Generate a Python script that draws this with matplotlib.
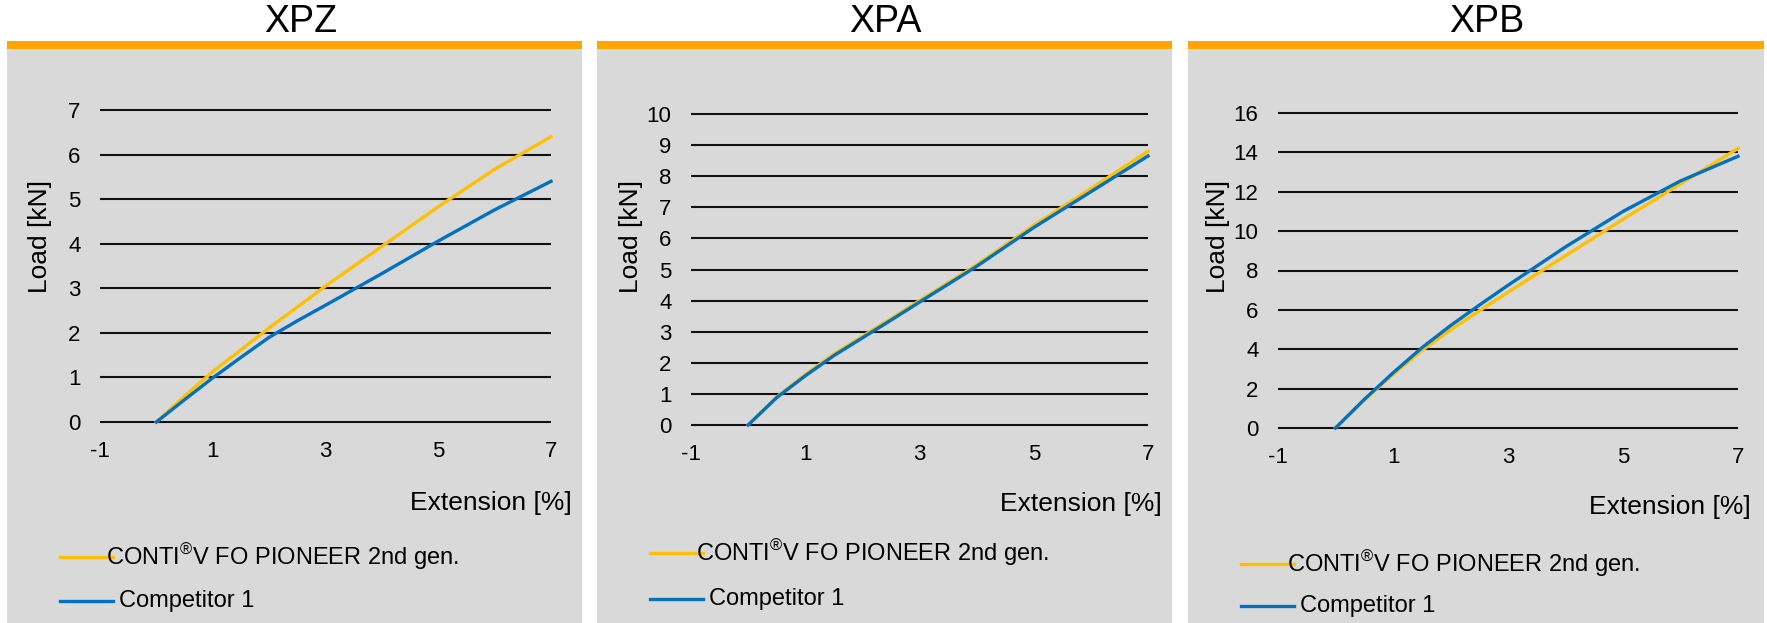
import matplotlib
matplotlib.use('Agg')
import matplotlib.pyplot as plt
from matplotlib.patches import Rectangle
from matplotlib.lines import Line2D

plt.rcParams['font.family'] = ['Liberation Sans', 'DejaVu Sans']
plt.rcParams['mathtext.fontset'] = 'custom'
plt.rcParams['mathtext.rm'] = 'Liberation Sans'
plt.rcParams['axes.unicode_minus'] = False

# data
titles = ['XPZ', 'XPA', 'XPB']
series_names = ['CONTI$^{\\rm ®}$V FO PIONEER 2nd gen.', 'Competitor 1']
extension = [0, 0.5, 1, 1.5, 2, 2.5, 3, 4, 5, 6, 7]

xpz_conti = [0, 0.58, 1.13, 1.62, 2.11, 2.58, 3.05, 3.94, 4.83, 5.67, 6.4]
xpz_comp = [0, 0.5, 0.99, 1.45, 1.9, 2.27, 2.62, 3.33, 4.06, 4.76, 5.4]

xpa_conti = [0, 0.9, 1.62, 2.28, 2.85, 3.42, 4.0, 5.15, 6.42, 7.6, 8.8]
xpa_comp = [0, 0.88, 1.58, 2.23, 2.8, 3.37, 3.95, 5.1, 6.35, 7.5, 8.65]

xpb_conti = [0, 1.42, 2.72, 3.93, 4.98, 5.95, 6.9, 8.75, 10.6, 12.4, 14.2]
xpb_comp = [0, 1.45, 2.8, 4.07, 5.2, 6.24, 7.25, 9.2, 11.0, 12.55, 13.8]

x_ticks = [-1, 1, 3, 5, 7]
y_ticks = [list(range(0, 8)), list(range(0, 11)), list(range(0, 17, 2))]

conti_color = '#FFC000'
comp_color = '#0070C0'
panel_color = '#D9D9D9'
bar_color = '#FFA500'

W, H = 1767, 623
fig = plt.figure(figsize=(W / 100, H / 100), dpi=100)


def fx(x):
    return x / W


def fy(y):
    return 1 - y / H


# pixel layout of each panel: gray box, axes box, title centre, legend rows
panels = [
    dict(box=(7, 582), axes=(100, 551, 110, 422), title_x=301, leg_y=(557, 601), xlab=(572, 503)),
    dict(box=(597, 1172), axes=(691, 1148, 114, 425), title_x=885, leg_y=(553, 599), xlab=(1162, 504)),
    dict(box=(1188, 1764), axes=(1278, 1738, 113, 428), title_x=1487, leg_y=(564, 606), xlab=(1751, 507)),
]
data = [(xpz_conti, xpz_comp), (xpa_conti, xpa_comp), (xpb_conti, xpb_comp)]

for i, p in enumerate(panels):
    left, right = p['box']
    # gray panel + orange band on top
    fig.add_artist(Rectangle((fx(left), 0), fx(right - left), fy(49), transform=fig.transFigure,
                             facecolor=panel_color, edgecolor='none', zorder=0))
    fig.add_artist(Rectangle((fx(left), fy(49)), fx(right - left), 8 / H, transform=fig.transFigure,
                             facecolor=bar_color, edgecolor='none', zorder=0))
    fig.text(fx(p['title_x']), fy(22), titles[i], fontsize=27, ha='center', va='center')

    ax_l, ax_r, ax_t, ax_b = p['axes']
    ax = fig.add_axes([fx(ax_l), fy(ax_b), fx(ax_r - ax_l), (ax_b - ax_t) / H])
    ax.set_facecolor('none')
    for s in ax.spines.values():
        s.set_visible(False)

    ax.set_xlim(-1, 7)
    ax.set_ylim(0, y_ticks[i][-1])
    ax.set_xticks(x_ticks)
    ax.set_yticks(y_ticks[i])
    ax.tick_params(length=0, labelsize=16)
    ax.tick_params(axis='x', pad=14)
    ax.tick_params(axis='y', pad=14)

    ax.hlines(y_ticks[i], -1, 7, color='#111111', lw=1.5, clip_on=False, zorder=1)

    conti, comp = data[i]
    ax.plot(extension, conti, color=conti_color, lw=2.4, zorder=3, clip_on=False)
    ax.plot(extension, comp, color=comp_color, lw=2.4, zorder=4, clip_on=False)

    fig.text(fx(ax_l - 60), fy(236), 'Load [kN]', fontsize=19, rotation=90, ha='center', va='center')
    fig.text(fx(p['xlab'][0]), fy(p['xlab'][1]), 'Extension [%]', fontsize=19, ha='right', va='center')

    # legend rows drawn by hand: line then label overlapping its end
    for name, col, ly, tx in zip(series_names, [conti_color, comp_color], p['leg_y'], [99, 112]):
        fig.add_artist(Line2D([fx(left + 53), fx(left + 106)], [fy(ly), fy(ly)],
                              transform=fig.transFigure, color=col, lw=2.4))
        fig.text(fx(left + tx), fy(ly), name, fontsize=17, ha='left', va='center')

fig.savefig('out.png', dpi=100)
